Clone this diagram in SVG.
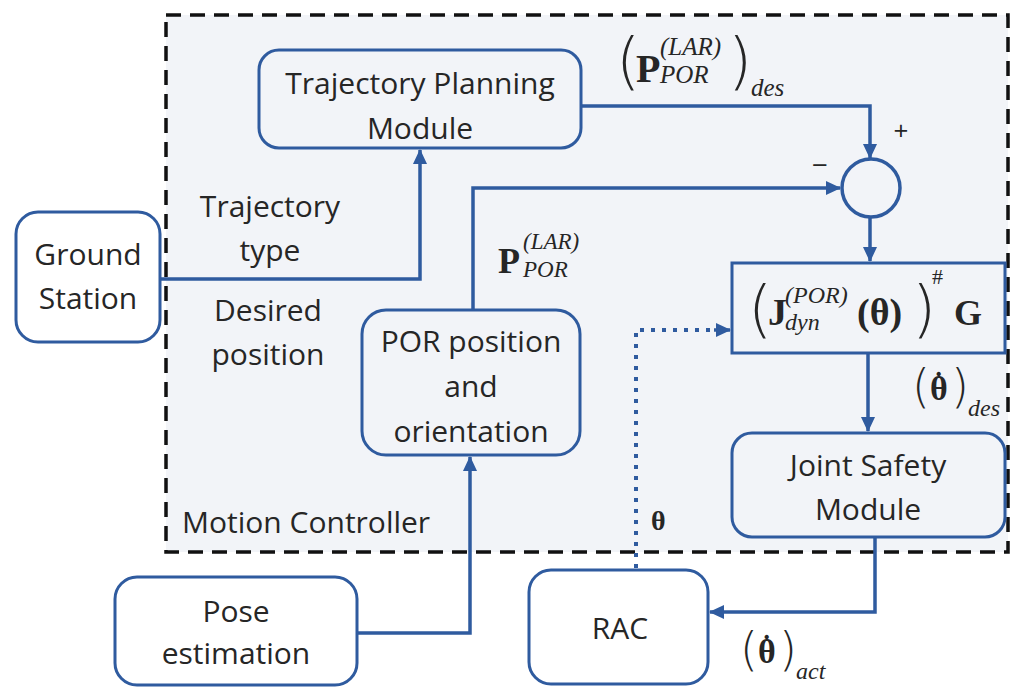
<svg xmlns="http://www.w3.org/2000/svg" width="1016" height="688" viewBox="0 0 1016 688">
<defs>
<style>
.node{fill:#f2f4f8;stroke:#2f5b9f;stroke-width:3}
.ext{fill:#ffffff;stroke:#2f5b9f;stroke-width:3}
.wire{fill:none;stroke:#2f5b9f;stroke-width:3.5}
.dot{fill:none;stroke:#2f5b9f;stroke-width:4;stroke-dasharray:4 7}
.t{font-family:"Open Sans","Liberation Sans",sans-serif;font-size:30px;fill:#262626;text-anchor:middle}
.tl{font-family:"Open Sans","Liberation Sans",sans-serif;font-size:30px;fill:#262626}
.m{font-family:"Liberation Serif","DejaVu Serif",serif;fill:#262626}
.b{font-weight:bold}
.i{font-style:italic}
.pl{font-family:"DejaVu Sans","Liberation Serif",sans-serif;font-weight:200}
</style>
<marker id="arr" markerUnits="userSpaceOnUse" markerWidth="16" markerHeight="16" viewBox="0 0 16 16" refX="14" refY="8" orient="auto">
<path d="M0,1 L15,8 L0,15 Z" fill="#2f5b9f"/>
</marker>
</defs>
<rect width="1016" height="688" fill="#ffffff"/>
<rect id="motion-controller" x="166" y="15" width="842" height="537" fill="#f2f4f8" stroke="#111" stroke-width="3.5" stroke-dasharray="15 9"/>
<text class="tl" x="182" y="533">Motion Controller</text>

<g id="connectors">
<path class="wire" d="M581,106 H870 V158" marker-end="url(#arr)"/>
<path class="wire" d="M473,310 V188 H840" marker-end="url(#arr)"/>
<path class="wire" d="M870,217 V261" marker-end="url(#arr)"/>
<path class="wire" d="M868,353 V431" marker-end="url(#arr)"/>
<path class="wire" d="M875,537 V612 H710" marker-end="url(#arr)"/>
<path class="wire" d="M160,279 H420 V150" marker-end="url(#arr)"/>
<path class="wire" d="M357,633 H470 V457" marker-end="url(#arr)"/>
<path class="dot" d="M636,568 V330 H718"/>
<path class="wire" d="M714,330 H730" marker-end="url(#arr)"/>
</g>

<g id="trajectory-planning">
<rect class="node" x="259" y="50" width="322" height="98" rx="20"/>
<text class="t" x="420" y="94">Trajectory Planning</text>
<text class="t" x="420" y="139">Module</text>
</g>

<g id="ground-station">
<rect class="ext" x="16" y="212" width="144" height="130" rx="22"/>
<text class="t" x="88" y="265">Ground</text>
<text class="t" x="88" y="309">Station</text>
</g>

<g id="sum">
<circle cx="871" cy="188" r="29" fill="#f2f4f8" stroke="#2f5b9f" stroke-width="3.5"/>
<text class="t" x="901" y="140" style="font-size:26px">+</text>
<text class="t" x="820" y="175" style="font-size:28px">−</text>
</g>

<g id="por-node">
<rect class="node" x="362" y="310" width="218" height="145" rx="24"/>
<text class="t" x="471" y="352">POR position</text>
<text class="t" x="471" y="397">and</text>
<text class="t" x="471" y="442">orientation</text>
</g>

<g id="jacobian">
<rect class="node" x="732" y="263" width="273" height="90"/>
<text class="m"><tspan class="pl" x="748" y="330" style="font-size:62px">(</tspan><tspan class="b" x="768" y="325" style="font-size:38px">J</tspan><tspan class="i" x="785" y="303" style="font-size:24px">(POR)</tspan><tspan class="i" x="785" y="330" style="font-size:24px">dyn</tspan><tspan class="b" x="857" y="325" style="font-size:38px">(θ)</tspan><tspan class="pl" x="912" y="330" style="font-size:62px">)</tspan><tspan x="932" y="284" style="font-size:22px">#</tspan><tspan class="b" x="954" y="325" style="font-size:36px">G</tspan></text>
</g>

<g id="joint-safety">
<rect class="node" x="732" y="433" width="273" height="104" rx="20"/>
<text class="t" x="868" y="476">Joint Safety</text>
<text class="t" x="868" y="520">Module</text>
</g>

<g id="rac">
<rect class="ext" x="529" y="570" width="179" height="114" rx="22"/>
<text class="t" x="620" y="639">RAC</text>
</g>

<g id="pose-estimation">
<rect class="ext" x="115" y="577" width="242" height="108" rx="22"/>
<text class="t" x="236" y="622">Pose</text>
<text class="t" x="236" y="664">estimation</text>
</g>

<g id="labels">
<text class="t" x="270" y="217">Trajectory</text>
<text class="t" x="270" y="261">type</text>
<text class="t" x="268" y="321">Desired</text>
<text class="t" x="268" y="365">position</text>

<text class="m"><tspan class="pl" x="616" y="82" style="font-size:62px">(</tspan><tspan class="b" x="636" y="82" style="font-size:40px">P</tspan><tspan class="i" x="660" y="55" style="font-size:25px">(LAR)</tspan><tspan class="i" x="660" y="83" style="font-size:25px">POR</tspan><tspan class="pl" x="728" y="82" style="font-size:62px">)</tspan><tspan class="i" x="751" y="96" style="font-size:25px">des</tspan></text>

<text class="m"><tspan class="b" x="498" y="273" style="font-size:36px">P</tspan><tspan class="i" x="523" y="249" style="font-size:23px">(LAR)</tspan><tspan class="i" x="523" y="277" style="font-size:23px">POR</tspan></text>

<text class="m"><tspan class="pl" x="912" y="402" style="font-size:46px">(</tspan><tspan class="b" x="930" y="400" style="font-size:34px">θ</tspan><tspan class="b" x="934" y="391" style="font-size:28px">˙</tspan><tspan class="pl" x="951" y="402" style="font-size:46px">)</tspan><tspan class="i" x="968" y="416" style="font-size:24px">des</tspan></text>

<text class="m"><tspan class="pl" x="740" y="665" style="font-size:46px">(</tspan><tspan class="b" x="758" y="663" style="font-size:34px">θ</tspan><tspan class="b" x="762" y="654" style="font-size:28px">˙</tspan><tspan class="pl" x="779" y="665" style="font-size:46px">)</tspan><tspan class="i" x="796" y="679" style="font-size:24px">act</tspan></text>

<text class="m b" x="651" y="530" style="font-size:28px">θ</text>
</g>
</svg>
